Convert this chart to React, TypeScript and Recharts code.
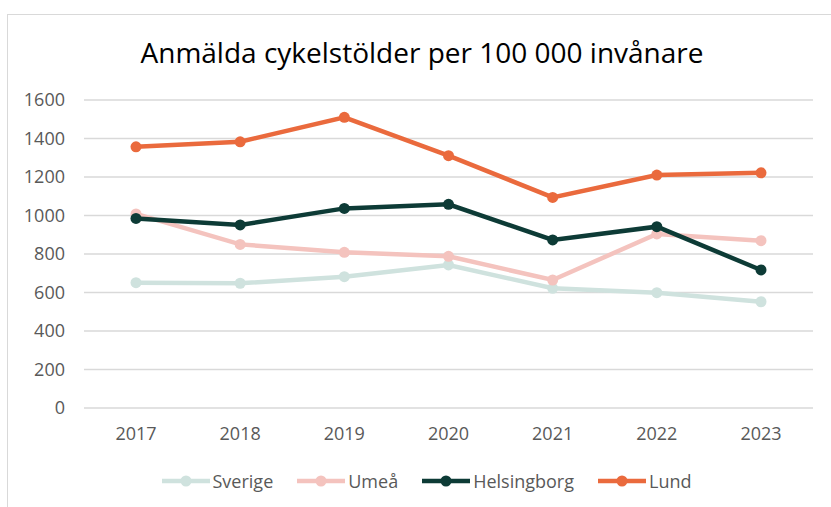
import React from "react";
import { LineChart, Line, XAxis, YAxis, CartesianGrid } from "recharts";

const years = ["2017", "2018", "2019", "2020", "2021", "2022", "2023"];
const sverige = [651, 648, 682, 743, 622, 599, 552];
const umea = [1008, 850, 809, 788, 665, 904, 869];
const helsingborg = [985, 951, 1037, 1058, 873, 942, 717];
const lund = [1357, 1383, 1510, 1311, 1094, 1210, 1222];
const yTicks = [0, 200, 400, 600, 800, 1000, 1200, 1400, 1600];

const title = "Anmälda cykelstölder per 100 000 invånare";

const series = [
  { key: "Sverige", values: sverige, color: "#cfe2de" },
  { key: "Umeå", values: umea, color: "#f4c3be" },
  { key: "Helsingborg", values: helsingborg, color: "#0d3b36" },
  { key: "Lund", values: lund, color: "#ea6a3d" },
];

const data = years.map((y, i) => {
  const row: Record<string, string | number> = { year: y };
  series.forEach((s) => {
    row[s.key] = s.values[i];
  });
  return row;
});

const FONT = "'Open Sans', sans-serif";

export default function App() {
  return (
    <div
      style={{
        position: "absolute",
        left: 0,
        top: 0,
        width: 831,
        height: 507,
        background: "#fff",
        overflow: "hidden",
        fontFamily: FONT,
      }}
    >
      <div
        style={{
          position: "absolute",
          left: 7,
          top: 14,
          width: 900,
          height: 600,
          border: "1.5px solid #d9d9d9",
        }}
      />
      <div
        style={{
          position: "absolute",
          left: 0,
          top: 38,
          width: 844,
          textAlign: "center",
          fontSize: 28,
          lineHeight: "28px",
          color: "#000",
          whiteSpace: "nowrap",
        }}
      >
        {title}
      </div>
      <div style={{ position: "absolute", left: 0, top: 0 }}>
        <LineChart
          width={831}
          height={507}
          data={data}
          margin={{ top: 100, right: 18, left: 0, bottom: 69 }}
        >
          <CartesianGrid vertical={false} stroke="#d9d9d9" strokeWidth={1.5} />
          <XAxis
            dataKey="year"
            axisLine={false}
            tickLine={false}
            tickSize={0}
            tickMargin={19}
            height={30}
            padding={{ left: 52, right: 52 }}
            tick={{ fill: "#595959", fontSize: 18, fontFamily: FONT }}
          />
          <YAxis
            domain={[0, 1600]}
            ticks={yTicks}
            axisLine={false}
            tickLine={false}
            tickSize={0}
            tickMargin={19}
            width={84}
            tick={{ fill: "#595959", fontSize: 18, fontFamily: FONT }}
          />
          {series.map((s) => (
            <Line
              key={s.key}
              dataKey={s.key}
              stroke={s.color}
              strokeWidth={4.5}
              dot={{ r: 5.5, fill: s.color, stroke: s.color, strokeWidth: 0 }}
              activeDot={false}
              isAnimationActive={false}
            />
          ))}
        </LineChart>
      </div>
      <div
        style={{
          position: "absolute",
          left: 0,
          top: 468,
          width: 853,
          display: "flex",
          justifyContent: "center",
          alignItems: "center",
          fontSize: 18,
          lineHeight: "26px",
          color: "#595959",
        }}
      >
        {series.map((s, i) => (
          <div
            key={s.key}
            style={{
              display: "flex",
              alignItems: "center",
              marginLeft: i === 0 ? 0 : 24,
            }}
          >
            <svg width={48} height={14} style={{ marginRight: 3 }}>
              <line x1={0} y1={7} x2={48} y2={7} stroke={s.color} strokeWidth={4.5} />
              <circle cx={24} cy={7} r={5.5} fill={s.color} />
            </svg>
            <span>{s.key}</span>
          </div>
        ))}
      </div>
    </div>
  );
}
